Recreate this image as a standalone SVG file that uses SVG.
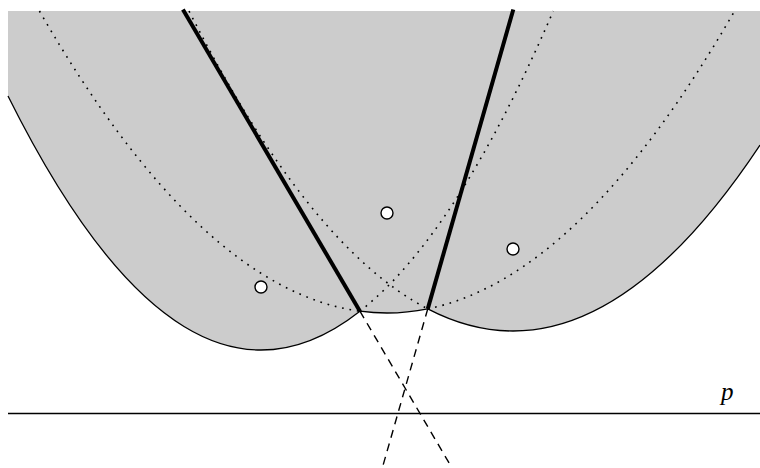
<svg xmlns="http://www.w3.org/2000/svg" width="760" height="468" viewBox="0 0 760 468">
<style>
.region{fill:#cccccc;stroke:none}
.curve{fill:none;stroke:#000;stroke-width:1.3}
.dotted{fill:none;stroke:#000;stroke-width:1.6;stroke-dasharray:1.7 5.8}
.thick{fill:none;stroke:#000;stroke-width:4}
.dashed{fill:none;stroke:#000;stroke-width:1.4;stroke-dasharray:8 6}
.focus{fill:#fff;stroke:#000;stroke-width:1.4}
.label{font-family:"Liberation Serif",serif;font-style:italic;font-size:25px;fill:#000}
</style>
<rect width="760" height="468" fill="#fff"/>
<g id="region">
<path class="region" d="M8,11 L8,96 Q183.965,449.32 359.93,311.17 Q393.845,315.76 427.76,308.85 Q593.88,395.19 760,145 L760,11 Z"/>
</g>
<g id="connectors">
<path class="dotted" d="M39.44,11 Q199.685,289.47 359.93,311.17"/>
<path class="dotted" d="M427.76,308.85 Q581.16,277.59 734.56,11"/>
<path class="dotted" d="M359.93,311.17 Q456.605,235.26 553.28,11"/>
<path class="dotted" d="M189.03,11 Q308.395,246.8 427.76,308.85"/>
<path class="curve" d="M8,96 Q183.965,449.32 359.93,311.17 Q393.845,315.76 427.76,308.85 Q593.88,395.19 760,145"/>
<path class="thick" d="M359.93,311.17 L182.9,9.6"/>
<path class="thick" d="M427.76,308.85 L513.3,9.5"/>
<path class="dashed" d="M359.93,311.17 L450.86,466"/>
<path class="dashed" d="M427.76,308.85 L382.86,466"/>
<path class="curve" d="M8,413.5 L760,413.5"/>
</g>
<g id="focusA"><circle class="focus" cx="261" cy="287" r="6"/></g>
<g id="focusB"><circle class="focus" cx="387" cy="213" r="6"/></g>
<g id="focusC"><circle class="focus" cx="513" cy="249" r="6"/></g>
<g id="label-p"><text class="label" x="721" y="400">p</text></g>
</svg>
